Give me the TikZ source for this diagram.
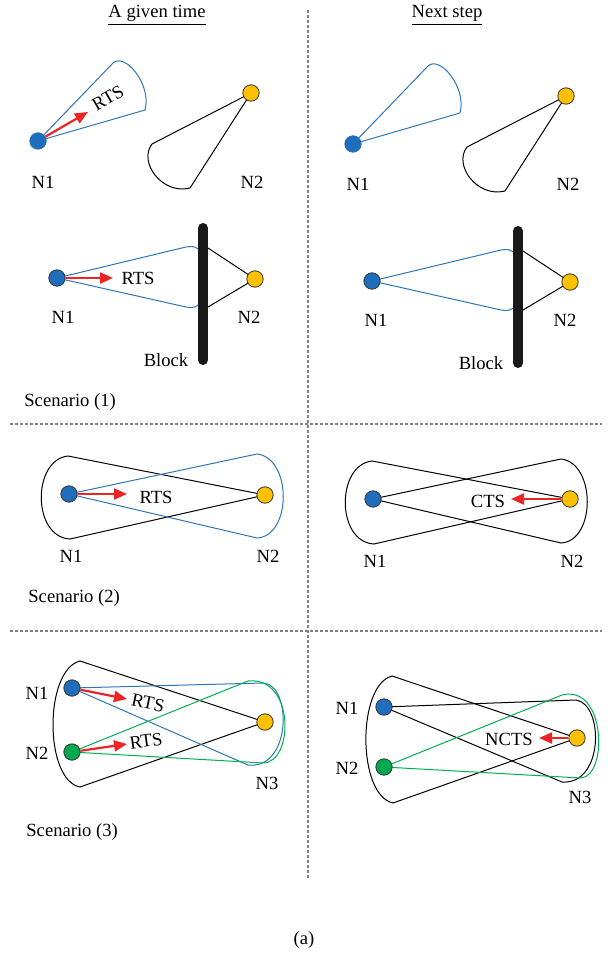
\documentclass[tikz,border=0pt]{standalone}
\usepackage{fontspec}
\setmainfont{Liberation Serif}
\usetikzlibrary{arrows.meta}
\definecolor{nblue}{HTML}{1F6EBB}
\definecolor{lblue}{HTML}{2E75B6}
\definecolor{nyellow}{HTML}{FFC000}
\definecolor{ngreen}{HTML}{00A94F}
\definecolor{lgreen}{HTML}{00B050}
\definecolor{sred}{HTML}{EE2424}
\begin{document}
\begin{tikzpicture}[x=0.5pt,y=-0.5pt,
  every node/.style={font=\fontsize{9.3}{10}\selectfont,inner sep=0pt},
  sta/.style={circle,draw=black!80,line width=0.4pt,minimum size=8.2pt},
  rng/.style={line width=0.5pt},
  sig/.style={draw=sred,line width=1.1pt,-{Triangle[length=6.5pt,width=5.5pt]}},
  sep/.style={draw=gray,dashed,dash pattern=on 1.5pt off 1pt,line width=0.6pt}]
\useasboundingbox (0,0) rectangle (608,956);

\node[anchor=base] (h1) at (157,18) {\underline{A given time}};
\node[anchor=base] (h2) at (447,18) {\underline{Next step}};
\draw[sep] (308,10) -- (308,878);
\draw[sep] (10,424) -- (602,424);
\draw[sep] (10,631) -- (602,631);
\node (fig) at (304,940) {(a)};

% scenario 1, first row
\coordinate (p1) at (38,141);
\coordinate (p2) at (251,93);
\draw[rng,lblue] (p1) -- (113,63) .. controls (125,52) and (152,85) .. (145,110) -- (p1);
\draw[rng] (p2) -- (152,144) .. controls (138,162) and (162,195) .. (190,188) -- (p2);
\node[sta,fill=nblue,draw=nblue] (a1) at (p1) {};
\node[sta,fill=nyellow] (a2) at (p2) {};
\coordinate (t1) at (88,112);
\draw[sig] (a1) -- (t1);
\node[rotate=30] (r1) at (108,98) {RTS};
\node (l1) at (43,182) {N1};
\node (l2) at (252,182) {N2};

\begin{scope}[shift={(315,3)}]
\coordinate (p3) at (38,141);
\coordinate (p4) at (251,93);
\draw[rng,lblue] (p3) -- (113,63) .. controls (125,52) and (152,85) .. (145,110) -- (p3);
\draw[rng] (p4) -- (152,144) .. controls (138,162) and (162,195) .. (190,188) -- (p4);
\node[sta,fill=nblue,draw=nblue] (b1) at (p3) {};
\node[sta,fill=nyellow] (b2) at (p4) {};
\node (l3) at (43,181) {N1};
\node (l4) at (253,181) {N2};
\end{scope}

% scenario 1, block
\coordinate (q1) at (57,278);
\coordinate (q2) at (255,279);
\draw[rng,lblue] (q1) -- (186,247) .. controls (194,246) .. (203,252) -- (203,302) .. controls (194,308) .. (186,307) -- (q1);
\draw[rng] (q2) -- (208,248);
\draw[rng] (q2) -- (208,307);
\draw[line width=5pt,line cap=round,black!90] (203,228) -- (203,360);
\node[sta,fill=nblue] (c1) at (q1) {};
\node[sta,fill=nyellow] (c2) at (q2) {};
\coordinate (t2) at (113,278);
\draw[sig] (c1) -- (t2);
\node (r2) at (138,278) {RTS};
\node (l5) at (63,317) {N1};
\node (l6) at (249,317) {N2};
\node (k1) at (166,360) {Block};
\node[anchor=west] (s1) at (24,402) {Scenario (1)};

\begin{scope}[shift={(315,3)}]
\coordinate (q3) at (57,278);
\coordinate (q4) at (255,279);
\draw[rng,lblue] (q3) -- (186,247) .. controls (194,246) .. (203,252) -- (203,302) .. controls (194,308) .. (186,307) -- (q3);
\draw[rng] (q4) -- (208,248);
\draw[rng] (q4) -- (208,307);
\draw[line width=5pt,line cap=round,black!90] (203,228) -- (203,360);
\node[sta,fill=nblue] (d1) at (q3) {};
\node[sta,fill=nyellow] (d2) at (q4) {};
\node (l7) at (61,317) {N1};
\node (l8) at (250,317) {N2};
\node (k2) at (166,360) {Block};
\end{scope}

% scenario 2
\coordinate (u1) at (69,494);
\coordinate (u2) at (265,495);
\draw[rng] (u2) -- (68,456) .. controls (32,460) and (32,537) .. (70,539) -- (u2);
\draw[rng,lblue] (u1) -- (257,454) .. controls (292,458) and (292,536) .. (257,538) -- (u1);
\node[sta,fill=nblue] (e1) at (u1) {};
\node[sta,fill=nyellow] (e2) at (u2) {};
\coordinate (t3) at (127,494);
\draw[sig] (e1) -- (t3);
\node (r3) at (156,497) {RTS};
\node (l9) at (71,556) {N1};
\node (l10) at (268,556) {N2};
\node[anchor=west] (s2) at (28,598) {Scenario (2)};

\begin{scope}[shift={(304,5)}]
\coordinate (u3) at (69,494);
\coordinate (u4) at (266,494);
\draw[rng] (u4) -- (68,456) .. controls (32,460) and (32,537) .. (70,539) -- (u4);
\draw[rng] (u3) -- (257,454) .. controls (292,458) and (292,536) .. (257,538) -- (u3);
\node[sta,fill=nblue] (f1) at (u3) {};
\node[sta,fill=nyellow] (f2) at (u4) {};
\coordinate (t4) at (207,494);
\draw[sig] (f2) -- (t4);
\node (r4) at (184,496) {CTS};
\node (l11) at (71,556) {N1};
\node (l12) at (268,556) {N2};
\end{scope}

% scenario 3
\coordinate (v1) at (72,688);
\coordinate (v2) at (72,752);
\coordinate (v3) at (265,722);
\draw[rng] (v3) -- (80,661) .. controls (44,670) and (44,780) .. (80,787) -- (v3);
\draw[rng,lblue] (v1) -- (263,683) .. controls (292,684) and (292,770) .. (248,765) -- (v1);
\draw[rng,lgreen] (v2) -- (248,681) .. controls (295,676) and (294,763) .. (263,763) -- (v2);
\node[sta,fill=nblue] (g1) at (v1) {};
\node[sta,fill=ngreen] (g2) at (v2) {};
\node[sta,fill=nyellow] (g3) at (v3) {};
\coordinate (t5) at (127,699);
\coordinate (t6) at (127,744);
\draw[sig] (g1) -- (t5);
\draw[sig] (g2) -- (t6);
\node[rotate=-12] (r5) at (148,703) {RTS};
\node[rotate=8] (r6) at (146,741) {RTS};
\node (l13) at (37,693) {N1};
\node (l14) at (37,753) {N2};
\node (l15) at (267,783) {N3};
\node[anchor=west] (s3) at (26,832) {Scenario (3)};

\coordinate (w1) at (384,707);
\coordinate (w2) at (384,767);
\coordinate (w3) at (577,738);
\draw[rng] (w3) -- (392,676) .. controls (357,685) and (357,795) .. (393,803) -- (w3);
\draw[rng] (w1) -- (576,700) .. controls (604,704) and (604,785) .. (562,782) -- (w1);
\draw[rng,lgreen] (w2) -- (562,695) .. controls (606,684) and (608,776) .. (581,778) -- (w2);
\node[sta,fill=nblue] (h3) at (w1) {};
\node[sta,fill=ngreen] (h4) at (w2) {};
\node[sta,fill=nyellow] (h5) at (w3) {};
\coordinate (t7) at (539,738);
\draw[sig] (h5) -- (t7);
\node (r7) at (509,739) {NCTS};
\node (l16) at (347,708) {N1};
\node (l17) at (347,768) {N2};
\node (l18) at (580,797) {N3};
\end{tikzpicture}
\end{document}
